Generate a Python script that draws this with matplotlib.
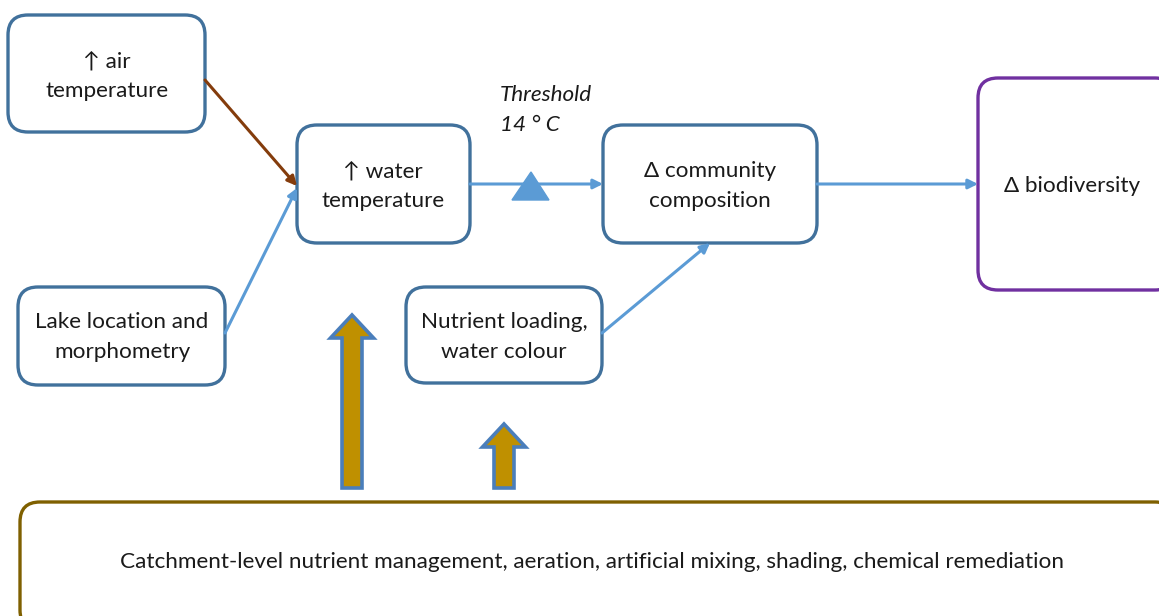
import matplotlib
matplotlib.use('Agg')
import matplotlib.pyplot as plt
from matplotlib.patches import FancyBboxPatch, FancyArrow, Polygon

plt.rcParams['font.family'] = ['Lato', 'DejaVu Sans']

## Content ##
box_labels = ['↑ air\ntemperature', '↑ water\ntemperature', 'Δ community\ncomposition',
              'Δ biodiversity', 'Lake location and\nmorphometry', 'Nutrient loading,\nwater colour',
              'Catchment-level nutrient management, aeration, artificial mixing, shading, chemical remediation']
threshold_label = 'Threshold\n14 ° C'

## Layout (pixel space, y down) ##
box_xy = [(8, 15, 205, 132), (297, 125, 470, 243), (603, 125, 817, 243),
          (978, 78, 1175, 290), (18, 287, 225, 385), (406, 287, 602, 383),
          (20, 502, 1175, 630)]
text_xy = [(107, 76), (383, 186), (710, 186), (1072, 186), (122, 337), (504, 337), (592, 562)]
box_edge = ['#41719C'] * 6 + ['#7F6000']
box_edge[3] = '#7030A0'

BLUE = '#5B9BD5'
TXT = '#1a1a1a'

fig = plt.figure(figsize=(11.59, 6.16), dpi=100)
ax = fig.add_axes([0, 0, 1, 1])
ax.set_xlim(0, 1159)
ax.set_ylim(616, 0)
ax.axis('off')

for (x0, y0, x1, y1), (tx, ty), lab, ec in zip(box_xy, text_xy, box_labels, box_edge):
    ax.add_patch(FancyBboxPatch((x0, y0), x1 - x0, y1 - y0,
                                boxstyle='round,pad=0,rounding_size=20',
                                fc='white', ec=ec, lw=2.4))
    ax.text(tx, ty, lab, ha='center', va='center', fontsize=16.2,
            color=TXT, linespacing=1.62)

# connector arrows
def link(p0, p1, color=BLUE):
    ax.annotate('', xy=p1, xytext=p0,
                arrowprops=dict(arrowstyle='-|>', color=color, lw=2.2,
                                mutation_scale=14, shrinkA=0, shrinkB=0))

link((205, 80), (297, 186), '#843C0C')
link((225, 333), (297, 188))
link((470, 184), (603, 184))
link((817, 184), (978, 184))
link((602, 333), (710, 243))

# threshold triangle
ax.add_patch(Polygon([(512, 200), (549, 200), (531, 172)], closed=True, fc=BLUE, ec=BLUE))
ax.text(500, 110, threshold_label, ha='left', va='center', fontsize=16.2,
        style='italic', color=TXT, linespacing=1.62)

# management block arrows
for x, y_top in [(352, 315), (504, 424)]:
    ax.add_patch(FancyArrow(x, 488, 0, y_top - 488, width=20, head_width=43,
                            head_length=23, length_includes_head=True,
                            fc='#BF9000', ec='#4A7EBB', lw=2.6, joinstyle='miter'))

fig.savefig('out.png', dpi=100)
